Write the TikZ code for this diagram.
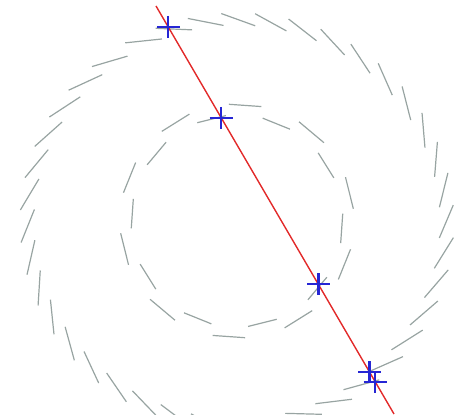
\documentclass[tikz,border=0pt]{standalone}
\usetikzlibrary{calc}
\definecolor{tickgray}{RGB}{152,164,162}
\definecolor{cutred}{RGB}{226,42,42}
\definecolor{hitblue}{RGB}{38,38,212}
\begin{document}
\begin{tikzpicture}[x=1pt,y=-1pt,
    tick/.style={tickgray,line width=1.2pt},
    cut/.style={cutred,line width=1.4pt},
    hit/.style={hitblue,line width=2.2pt}]
  \useasboundingbox (0,0) rectangle (454,414);
  % Inner ring: 20 chords, radius alternating
  \foreach \j in {0,...,19} {
    \pgfmathsetmacro{\ra}{106+11*mod(\j+1,2)}
    \pgfmathsetmacro{\a}{-95+18*\j}
    \draw[tick] ({237+\ra*cos(\a+1)},{221+\ra*sin(\a+1)})
      -- ({237+\ra*cos(\a+17)},{221+\ra*sin(\a+17)});
  }
  % Outer ring: 40 chords, each tilted inwards
  \foreach \k in {0,...,39} {
    \pgfmathsetmacro{\a}{239+8.95*\k}
    \draw[tick] ({237+217*cos(\a)},{222+209*sin(\a)})
      -- ({237+203*cos(\a+9.3)},{222+197*sin(\a+9.3)});
  }
  % Cutting line
  \coordinate (top) at (156,6);
  \coordinate (bot) at (394,414);
  \draw[cut] (top) -- (bot);
  % Hits
  \coordinate (h1) at (168.3,27);
  \coordinate (h2) at (221,118);
  \coordinate (h3) at (318.5,284);
  \coordinate (h4) at (369.5,372);
  \coordinate (h5) at (375,382);
  \foreach \h in {h1,h2,h3,h4,h5}
    \draw[hit] (\h) ++(-11.5,0) -- ++(23,0) (\h) ++(0,-11) -- ++(0,22);
\end{tikzpicture}
\end{document}
